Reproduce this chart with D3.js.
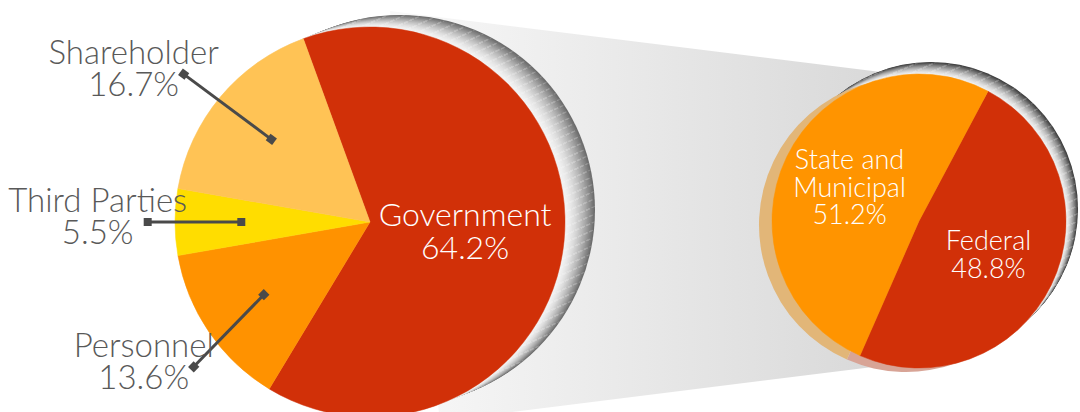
<!DOCTYPE html>
<html>
<head>
<meta charset="utf-8">
<script src="https://cdn.jsdelivr.net/npm/d3@7"></script>
<style>
  body { margin: 0; background: #fff; }
  svg { display: block; font-family: 'Lato', 'Open Sans', sans-serif; font-weight: 300; }
</style>
</head>
<body>
<div class="chart"></div>
<script>
// main pie
const mainLabels = ['Government', 'Personnel', 'Third Parties', 'Shareholder']
const mainValues = [64.2, 13.6, 5.5, 16.7]

// breakdown of the government slice
const subLabels = ['Federal', 'State and Municipal']
const subValues = [48.8, 51.2]

const width = 1080
const height = 412
const rad = Math.PI / 180

const mainColor = d3.scaleOrdinal()
  .domain(mainLabels)
  .range(['#d13008', '#ff9200', '#ffdd00', '#ffc355'])
const subColor = d3.scaleOrdinal()
  .domain(subLabels)
  .range(['#d13008', '#ff9400'])
const rimColor = d3.scaleOrdinal()
  .domain(subLabels)
  .range(['#d8a496', '#e2b678'])

const big = { x: 370, y: 222, r: 195, start: -20 }
const small = { x: 919, y: 221, r: 147, start: 28 }

const svg = d3.select('.chart').append('svg')
  .attr('width', width)
  .attr('height', height)

const defs = svg.append('defs')

// grey band joining the two pies
const band = defs.append('linearGradient')
  .attr('id', 'band')
  .attr('gradientUnits', 'userSpaceOnUse')
  .attr('x1', 400).attr('x2', 905).attr('y1', 0).attr('y2', 0)
band.append('stop').attr('offset', 0).attr('stop-color', '#f8f8f8')
band.append('stop').attr('offset', 1).attr('stop-color', '#d7d7d7')

// faint dashed stripes on the shadow rims
const stripes = defs.append('pattern')
  .attr('id', 'stripes')
  .attr('patternUnits', 'userSpaceOnUse')
  .attr('width', 12).attr('height', 7)
  .attr('patternTransform', 'rotate(-24)')
stripes.append('line')
  .attr('x1', 0).attr('x2', 12).attr('y1', 3.5).attr('y2', 3.5)
  .attr('stroke', '#fff')
  .attr('stroke-width', 0.7)
  .attr('stroke-dasharray', '4 2')

svg.append('path')
  .attr('d', 'M390,11 L905,75 L905,363 L440,421 Z')
  .attr('fill', 'url(#band)')

// stacked circles give the extruded grey edge
function drawShadow(p, dx, dy, light, dark) {
  const steps = d3.range(24, -1, -1).map(i => i / 24)
  const color = d3.interpolateRgb(light, dark)
  svg.append('g')
    .selectAll('circle')
    .data(steps)
    .join('circle')
      .attr('cx', t => p.x + dx * t)
      .attr('cy', t => p.y + dy * t)
      .attr('r', p.r)
      .attr('fill', t => color(Math.pow(t, 1.6)))
  svg.append('g')
      .attr('opacity', 0.22)
    .selectAll('circle')
    .data(steps)
    .join('circle')
      .attr('cx', t => p.x + dx * t)
      .attr('cy', t => p.y + dy * t)
      .attr('r', p.r)
      .attr('fill', 'url(#stripes)')
}

drawShadow(big, 30, -12, '#f4f4f4', '#6c6c6c')
drawShadow(small, 12, -12, '#f0f0f0', '#3e3e3e')

// main pie
const mainPie = d3.pie()
  .sort(null)
  .value(d => d.value)
  .startAngle(big.start * rad)
  .endAngle(big.start * rad + 2 * Math.PI)
const mainArcs = mainPie(mainLabels.map((l, i) => ({ label: l, value: mainValues[i] })))

const bigArc = d3.arc().innerRadius(0).outerRadius(big.r)
const gBig = svg.append('g').attr('transform', `translate(${big.x},${big.y})`)

gBig.selectAll('path')
  .data(mainArcs)
  .join('path')
    .attr('d', bigArc)
    .attr('fill', d => mainColor(d.data.label))
    .attr('stroke', d => mainColor(d.data.label))
    .attr('stroke-width', 0.5)

// small pie, with a faded copy behind it on the lower left
const subPie = d3.pie()
  .sort(null)
  .value(d => d.value)
  .startAngle(small.start * rad)
  .endAngle(small.start * rad + 2 * Math.PI)
const subArcs = subPie(subLabels.map((l, i) => ({ label: l, value: subValues[i] })))
const smallArc = d3.arc().innerRadius(0).outerRadius(small.r)

svg.append('g')
    .attr('transform', `translate(${small.x - 13},${small.y + 4})`)
  .selectAll('path')
  .data(subArcs)
  .join('path')
    .attr('d', smallArc)
    .attr('fill', d => rimColor(d.data.label))

const gSmall = svg.append('g').attr('transform', `translate(${small.x},${small.y})`)
gSmall.selectAll('path')
  .data(subArcs)
  .join('path')
    .attr('d', smallArc)
    .attr('fill', d => subColor(d.data.label))
    .attr('stroke', d => subColor(d.data.label))
    .attr('stroke-width', 0.5)

// labels inside slices
function innerLabel(g, d, arc, lines, size, lh) {
  const c = arc.centroid(d)
  const n = lines.length
  g.append('text')
    .attr('text-anchor', 'middle')
    .attr('fill', '#fff')
    .attr('font-size', size)
    .selectAll('tspan')
    .data(lines)
    .join('tspan')
      .attr('x', c[0])
      .attr('y', (t, i) => c[1] + (i - (n - 1) / 2) * lh + size * 0.35)
      .text(t => t)
}

const govArc = d3.arc().innerRadius(0).outerRadius(big.r * 0.98)
innerLabel(gBig, mainArcs[0], govArc, [mainLabels[0], mainValues[0].toFixed(1) + '%'], 32, 33)

const subLabelArc = d3.arc().innerRadius(0).outerRadius(small.r * 1.05)
innerLabel(gSmall, subArcs[0], subLabelArc, ['Federal', subValues[0].toFixed(1) + '%'], 27, 27.5)
innerLabel(gSmall, subArcs[1], subLabelArc, ['State and', 'Municipal', subValues[1].toFixed(1) + '%'], 27, 27.5)

// outside labels with leader lines
const tilt = [0, -5, 0, -1.5]
const reach = [0, 1.17, 1.14, 1.22]
const outside = mainArcs.slice(1)
outside.forEach(d => {
  const i = d.index
  const mid = (d.startAngle + d.endAngle) / 2
  const a2 = mid + tilt[i] * rad
  const p1 = [Math.sin(mid) * big.r * 0.66, -Math.cos(mid) * big.r * 0.66]
  const p2 = [Math.sin(a2) * big.r * reach[i], -Math.cos(a2) * big.r * reach[i]]
  const ang = Math.atan2(p2[1] - p1[1], p2[0] - p1[0]) / rad

  gBig.append('line')
    .attr('x1', p1[0]).attr('y1', p1[1])
    .attr('x2', p2[0]).attr('y2', p2[1])
    .attr('stroke', '#4a4a4a')
    .attr('stroke-width', 3)

  gBig.selectAll(null)
    .data([p1, p2])
    .join('rect')
      .attr('x', -4).attr('y', -4)
      .attr('width', 8).attr('height', 8)
      .attr('fill', '#4a4a4a')
      .attr('transform', p => `translate(${p[0]},${p[1]}) rotate(${ang})`)

  gBig.append('text')
    .attr('text-anchor', 'middle')
    .attr('fill', '#595959')
    .attr('font-size', 33)
    .selectAll('tspan')
    .data([d.data.label, d.data.value.toFixed(1) + '%'])
    .join('tspan')
      .attr('x', p2[0] - 50)
      .attr('y', (t, j) => p2[1] - 10 + j * 32)
      .text(t => t)
})
</script>
</body>
</html>
